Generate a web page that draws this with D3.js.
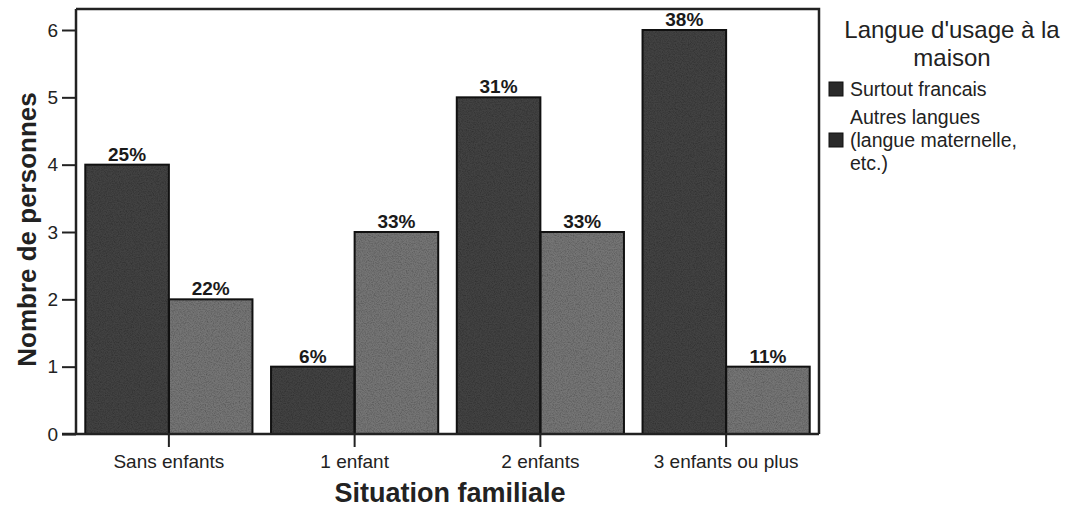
<!DOCTYPE html>
<html><head><meta charset="utf-8">
<script src="https://cdn.jsdelivr.net/npm/d3@7"></script>
<style>body{margin:0;background:#fff;} text{font-family:Arial,"Liberation Sans",sans-serif;}</style>
</head><body><svg id="c" width="1070" height="507"></svg>
<script>
const categories = ["Sans enfants", "1 enfant", "2 enfants", "3 enfants ou plus"];
const seriesNames = ["Surtout francais", "Autres langues (langue maternelle, etc.)"];
const francais = [4, 1, 5, 6];
const autres = [2, 3, 3, 1];
const francaisPct = ["25%", "6%", "31%", "38%"];
const autresPct = ["22%", "33%", "33%", "11%"];
const yTicks = [0, 1, 2, 3, 4, 5, 6];

const svg = d3.select("#c");
const L = 76, R = 819, T = 9, B = 434;
const FF = "Arial, Liberation Sans, sans-serif";

// subtle grain like the scanned original
const defs = svg.append("defs");
const f = defs.append("filter").attr("id", "grain").attr("x", 0).attr("y", 0).attr("width", 1).attr("height", 1);
f.append("feTurbulence").attr("type", "fractalNoise").attr("baseFrequency", 0.85).attr("numOctaves", 2).attr("seed", 7).attr("result", "t");
f.append("feColorMatrix").attr("in", "t").attr("type", "matrix")
  .attr("values", "0 0 0 0 0  0 0 0 0 0  0 0 0 0 0  0.9 0 0 0 -0.35").attr("result", "n");
f.append("feComposite").attr("in", "n").attr("in2", "SourceGraphic").attr("operator", "in").attr("result", "nc");
const m = f.append("feMerge");
m.append("feMergeNode").attr("in", "SourceGraphic");
m.append("feMergeNode").attr("in", "nc");

const x0 = d3.scaleBand().domain(categories).range([L, R]).paddingInner(0.1).paddingOuter(0.05);
const x1 = d3.scaleBand().domain([0, 1]).range([0, x0.bandwidth()]);
const y = d3.scaleLinear().domain([0, 6]).range([B, 30]);

const colors = ["#434343", "#747474"];
const data = categories.map((c, i) => ({c, vals: [francais[i], autres[i]], pct: [francaisPct[i], autresPct[i]]}));

// frame top and right
svg.append("path").attr("d", `M${L},${T}H${R}V${B}`).attr("fill", "none").attr("stroke", "#222").attr("stroke-width", 2.5);

const g = svg.selectAll("g.grp").data(data).enter().append("g").attr("transform", d => `translate(${x0(d.c)},0)`);
g.selectAll("rect").data(d => d.vals.map((v, k) => ({v, k}))).enter().append("rect")
  .attr("x", d => x1(d.k)).attr("width", x1.bandwidth())
  .attr("y", d => y(d.v)).attr("height", d => B - y(d.v))
  .attr("fill", d => colors[d.k]).attr("filter", "url(#grain)");
g.selectAll("rect.o").data(d => d.vals.map((v, k) => ({v, k}))).enter().append("rect")
  .attr("x", d => x1(d.k)).attr("width", x1.bandwidth())
  .attr("y", d => y(d.v)).attr("height", d => B - y(d.v))
  .attr("fill", "none").attr("stroke", "#111").attr("stroke-width", 2);
g.selectAll("text.pct").data(d => d.vals.map((v, k) => ({v, k, p: d.pct[k]}))).enter().append("text")
  .attr("x", d => x1(d.k) + x1.bandwidth() / 2).attr("y", d => y(d.v) - 4)
  .attr("text-anchor", "middle").attr("font-weight", "bold").attr("font-size", 19).attr("fill", "#1a1a1a").text(d => d.p);

// y axis
const ya = svg.append("g").attr("transform", `translate(${L},0)`)
  .call(d3.axisLeft(y).tickValues(yTicks).tickFormat(d3.format("d")).tickSize(14).tickPadding(4));
ya.select(".domain").attr("d", `M0,${T}V${B}`).attr("stroke", "#222").attr("stroke-width", 2.5);
ya.selectAll(".tick line").attr("stroke", "#222").attr("stroke-width", 2);
ya.selectAll(".tick text").attr("font-size", 19).attr("fill", "#222").attr("font-family", FF);

// x axis
const xa = svg.append("g").attr("transform", `translate(0,${B})`)
  .call(d3.axisBottom(x0).tickSize(13).tickPadding(8));
xa.select(".domain").attr("d", `M${L - 14},0H${R}`).attr("stroke", "#222").attr("stroke-width", 2.5);
xa.selectAll(".tick line").attr("stroke", "#222").attr("stroke-width", 2);
xa.selectAll(".tick text").attr("font-size", 19).attr("fill", "#222").attr("font-family", FF);

// axis titles
svg.append("text").attr("transform", `translate(36,${(T + B) / 2 + 8}) rotate(-90)`).attr("text-anchor", "middle")
  .attr("font-weight", "bold").attr("font-size", 26).attr("fill", "#222").text("Nombre de personnes");
svg.append("text").attr("x", 450).attr("y", 502).attr("text-anchor", "middle")
  .attr("font-weight", "bold").attr("font-size", 27).attr("fill", "#222").text("Situation familiale");

// legend
const lg = svg.append("g");
lg.append("text").attr("x", 952).attr("y", 38).attr("text-anchor", "middle").attr("font-size", 24).attr("fill", "#222").text("Langue d'usage à la");
lg.append("text").attr("x", 952).attr("y", 66).attr("text-anchor", "middle").attr("font-size", 24).attr("fill", "#222").text("maison");
const legItems = [
  {lines: ["Surtout francais"], y0: 96, sq: 82},
  {lines: ["Autres langues", "(langue maternelle,", "etc.)"], y0: 124, sq: 133}
];
legItems.forEach((it, k) => {
  lg.append("rect").attr("x", 829).attr("y", it.sq).attr("width", 14).attr("height", 14).attr("fill", "#2a2a2a").attr("stroke", "#111");
  it.lines.forEach((t, j) => lg.append("text").attr("x", 850).attr("y", it.y0 + j * 23).attr("font-size", 19.5).attr("fill", "#222").text(t));
});
</script></body></html>
